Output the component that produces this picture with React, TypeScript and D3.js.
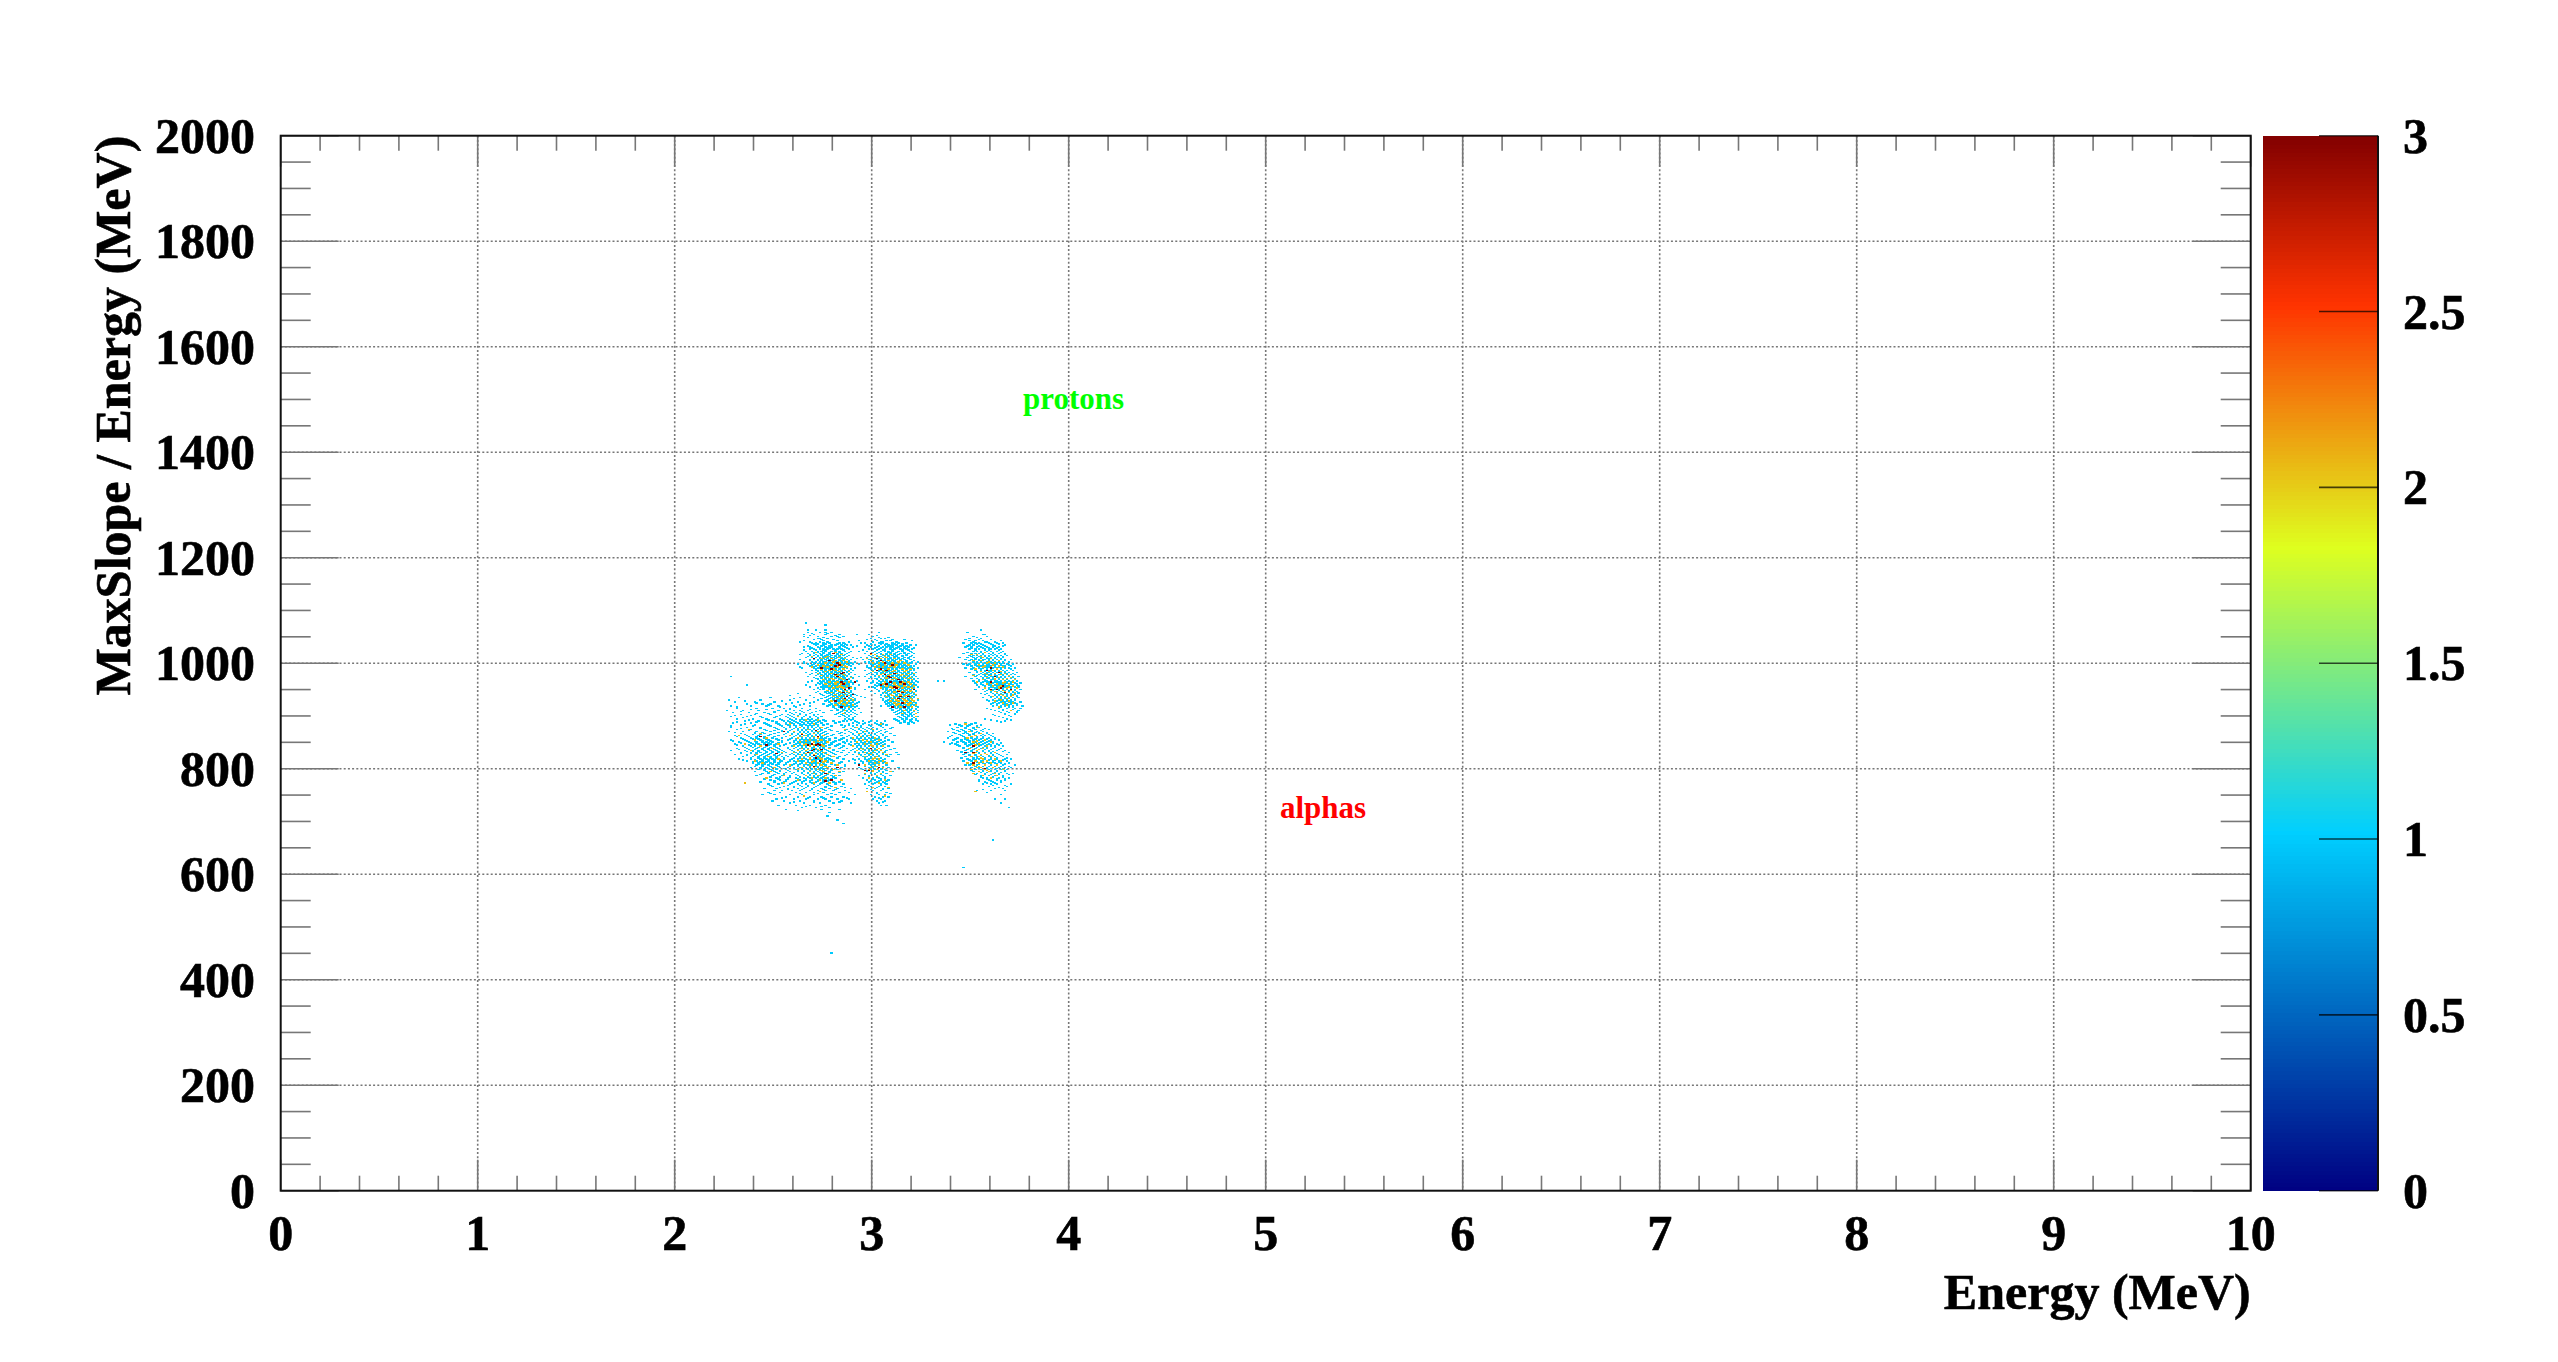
import React from "react";
import * as d3 from "d3";

const W = 2558, H = 1362;
const xTicks = [0,1,2,3,4,5,6,7,8,9,10];
const yTicks = [0,200,400,600,800,1000,1200,1400,1600,1800,2000];
const zTicks = [0,0.5,1,1.5,2,2.5,3];
const xLabel = "Energy (MeV)";
const yLabel = "MaxSlope / Energy (MeV)";
const paletteStops = [0,0.34,0.61,0.84,1];
const paletteColors = ["#000082","#00cfff","#deff1f","#ff3300","#820000"];

// Histogram cells: each row is [slope (MeV), then energy bins in units of 0.01 MeV]. Bin size 0.01 MeV x 2 MeV.
const countOneRows: number[][] = [
[1076,266],[1072,276],[1062,267,271,276,355],[1058,267,273,276,279,303,348],
[1054,265,270,276,283,292,298,356,357],[1050,265,272,279,282,285,300,351,358],
[1046,272,273,277,299,304,306,349,355],[1042,265,275,282,293,302,307,309,320,349,352,356,365],
[1038,269,271,275,278,283,285,294,296,303,305,310,313,317,346,350,352,354,359,363,366],
[1034,271,275,279,281,284,287,289,297,301,306,308,310,312,315,319,322,349,351,356,361,367],
[1030,265,268,272,276,279,283,286,290,296,299,302,305,307,310,313,316,318,347,350,353,355,358,361,364],
[1026,268,270,273,275,277,280,282,284,288,298,300,303,306,309,311,314,317,320,349,352,354,357,360,362,365],
[1022,266,269,272,274,276,279,281,283,286,289,293,297,301,304,306,308,310,313,315,319,351,353,355,358,360,363,366],
[1018,264,267,270,273,275,278,280,282,284,287,296,299,302,304,307,309,311,314,316,318,321,346,350,352,354,356,359,361,364,367],
[1014,268,270,272,274,276,277,279,281,283,285,288,298,300,302,305,306,308,310,312,315,317,320,349,351,353,355,357,359,361,363,365,368],
[1010,266,269,271,273,275,277,279,280,282,284,286,290,294,297,300,301,303,305,307,309,311,313,316,318,321,344,348,351,353,355,356,358,360,362,364,366],
[1006,263,268,270,272,274,276,278,280,283,285,287,289,295,298,299,302,304,306,308,310,312,314,316,319,347,350,352,354,356,357,359,361,363,365,367,370],
[1002,265,269,271,273,275,276,278,281,282,284,286,288,291,296,298,300,302,303,305,307,309,311,313,315,317,320,323,351,353,355,358,360,362,364,366,369],
[998,262,267,270,272,274,275,277,279,281,283,285,287,290,293,299,301,303,304,306,308,310,312,314,316,318,322,346,349,352,354,356,358,359,361,363,365,368,371],
[994,268,271,273,274,276,278,280,282,284,286,289,297,300,302,304,305,307,309,311,313,315,317,319,321,350,353,355,357,358,360,362,364,366,367,370],
[990,264,270,272,273,275,277,279,281,283,285,287,291,298,299,301,303,305,307,308,310,312,314,316,318,320,323,347,351,354,356,358,361,363,365,367,369,372],
[986,269,271,272,274,276,278,280,282,284,286,288,290,296,300,302,303,304,306,308,309,311,313,315,317,319,321,352,355,357,359,360,362,364,366,368,371],
[982,266,271,273,275,277,279,281,282,283,285,287,289,299,301,302,304,305,307,309,310,312,314,316,318,320,322,349,353,356,358,359,361,363,365,367,369,373],
[978,268,272,274,276,278,280,281,283,284,286,288,291,297,300,302,304,306,308,309,311,313,315,317,319,321,351,354,356,357,359,360,362,364,366,368,370,372],
[974,228,267,273,275,277,279,280,282,284,285,287,289,293,296,299,301,303,305,307,309,310,312,314,316,318,320,322,347,352,355,357,358,360,361,363,365,367,369,371,374],
[970,271,272,274,276,278,279,281,283,285,286,288,290,298,301,302,304,306,308,310,311,313,315,317,319,321,323,350,353,356,358,359,361,362,364,366,368,370,372],
[966,269,273,275,277,278,280,282,284,286,287,289,292,297,300,303,305,307,309,311,312,314,316,318,320,322,333,336,351,354,357,358,360,362,363,365,367,369,371,373],
[962,272,274,276,277,279,281,283,285,287,288,290,299,302,304,306,308,310,312,313,315,317,319,321,352,355,358,359,361,363,364,366,368,370,372,375],
[958,236,266,271,275,276,278,280,282,284,286,288,293,301,303,305,307,309,311,313,314,316,318,320,322,353,356,359,360,362,364,366,367,369,371,373],
[954,268,274,276,277,279,281,283,285,287,289,298,300,304,306,308,310,312,314,315,317,319,321,323,354,357,360,361,363,365,367,368,370,372,374],
[950,270,273,275,278,280,282,284,286,288,291,296,302,305,307,309,311,313,315,317,319,321,352,356,359,361,362,364,366,368,370,372,375],
[946,272,276,277,279,281,283,285,287,289,299,303,306,308,310,312,314,316,318,320,322,357,360,362,363,365,367,369,371,373],
[942,262,273,277,278,280,282,284,286,288,290,301,305,307,309,311,313,315,317,319,321,355,358,361,363,365,367,368,370,372,374],
[938,258,268,275,278,280,281,283,285,287,289,292,304,306,308,310,312,314,316,318,320,322,359,362,364,366,368,370,373],
[934,232,248,263,270,276,279,281,282,284,286,288,290,296,304,307,309,311,313,315,317,319,321,356,360,363,365,367,369,371,374],
[930,227,243,258,266,272,277,280,282,283,285,287,289,291,305,308,310,312,314,316,318,320,323,358,361,364,366,368,370,372],
[926,230,240,250,262,270,278,281,283,285,286,288,290,293,306,309,311,313,315,317,319,321,362,365,367,369,371,375],
[922,236,244,248,256,265,275,279,282,284,286,287,289,291,307,310,312,314,316,318,320,322,360,363,366,368,370,373],
[918,228,238,246,252,260,268,277,280,283,285,287,288,290,292,304,308,311,313,315,317,319,322,361,365,367,369,371,376],
[914,231,241,249,255,258,264,271,281,284,286,288,290,293,309,312,314,316,318,320,322,358,364,368,372,375],
[910,226,234,242,252,256,260,263,267,273,279,282,285,287,289,291,310,313,315,317,319,321,323,362,366,370,374],
[906,229,237,245,250,258,261,265,269,275,283,286,288,290,294,311,314,316,318,320,323,365,369,373],
[902,233,240,248,254,257,260,263,266,270,272,281,284,287,289,292,312,315,317,319,321,361,367,372],
[898,228,236,243,251,256,259,262,265,268,271,274,283,286,288,291,313,316,318,320,323,364,370],
[894,231,239,246,253,258,261,264,267,269,272,286,288,290,311,315,317,320,322,357,368],
[890,235,242,249,255,257,260,263,266,268,270,273,276,280,285,287,291,295,299,302,306,313,316,319,323,363,367],
[886,229,238,245,251,256,259,262,265,267,269,271,274,281,290,293,296,301,304,314,318,321,347,352],
[882,233,240,247,253,257,260,263,264,266,268,270,272,275,284,288,292,298,303,307,339,344,349,355],
[878,228,236,243,250,255,258,261,263,265,267,269,271,273,277,285,291,294,297,300,305,310,343,347,351,354],
[874,231,238,245,252,256,259,262,264,266,268,270,272,274,278,287,290,293,296,299,302,306,341,345,349,352,356,359],
[870,227,234,241,248,254,257,260,263,265,267,269,271,273,276,282,288,292,295,297,300,303,307,338,344,347,350,353,356],
[866,233,240,245,250,256,259,262,264,266,268,270,272,274,277,283,286,290,294,296,298,301,304,309,342,346,348,351,354,358,361],
[862,230,236,242,247,252,258,261,263,265,267,269,271,273,275,279,284,288,291,293,295,297,299,302,305,311,340,345,349,352,355,357,360],
[858,233,238,241,245,249,254,259,262,264,266,268,270,272,274,276,281,285,289,292,294,296,298,300,303,306,338,343,347,350,353,356,359,362],
[854,228,235,240,243,247,252,257,261,263,265,267,269,271,273,275,278,283,287,291,293,295,297,299,301,304,308,341,345,348,351,354,357,360,364],
[850,232,237,241,244,246,249,254,260,262,264,266,268,270,272,274,277,280,285,289,292,294,296,298,300,302,305,310,336,343,346,349,352,355,358,361],
[846,230,235,239,242,245,248,251,256,261,263,265,267,269,271,273,275,279,283,288,291,293,295,297,299,301,303,306,339,342,347,350,353,356,359,363],
[842,234,238,240,243,246,250,253,259,262,264,266,268,270,272,274,276,281,285,290,292,294,296,298,300,302,304,308,344,348,351,354,357,360,362,366],
[838,231,236,241,244,247,249,252,257,260,263,265,267,269,271,273,275,278,283,287,291,293,295,297,299,301,303,305,311,346,349,352,355,358,361,365],
[834,228,235,239,242,245,248,251,254,259,262,264,266,268,270,272,274,277,280,285,289,292,294,296,298,300,302,304,307,343,347,350,353,356,359,363,367],
[830,233,238,241,243,246,249,252,256,261,263,265,267,269,271,273,276,279,284,288,291,293,295,297,299,301,303,306,312,345,348,351,354,357,360,362,369],
[826,230,236,240,244,247,250,253,258,260,262,264,266,268,270,272,274,277,281,287,290,294,296,298,300,302,305,309,313,346,349,352,355,358,361,364,368],
[822,234,239,242,245,248,251,254,257,261,263,265,267,269,271,273,275,279,283,292,295,297,299,301,303,308,347,350,353,356,359,362,366],
[818,232,238,243,246,249,252,255,259,262,264,266,268,270,272,274,276,278,285,290,293,296,298,300,302,306,348,351,354,357,360,363,367,370],
[814,236,241,244,247,250,254,258,260,263,265,267,269,271,274,277,280,288,294,297,299,301,304,310,346,350,352,355,358,361,364,368],
[810,239,242,245,248,252,256,261,264,266,268,270,272,275,279,283,291,295,298,300,302,305,351,354,356,359,362,365,369],
[806,241,244,247,251,255,259,262,265,267,269,271,273,276,281,286,296,299,301,303,307,347,349,353,357,360,363,366,372],
[802,238,243,246,249,253,257,260,263,266,268,270,272,274,277,284,293,298,300,303,308,313,350,354,358,361,364,367,370],
[798,242,245,248,251,256,261,264,267,269,271,273,275,279,282,295,299,301,304,306,352,355,359,362,365,368],
[794,240,246,250,253,258,262,265,268,270,272,275,278,285,297,300,303,305,310,351,356,360,363,367],
[790,244,247,252,255,259,264,267,269,271,274,276,280,296,299,301,304,307,353,357,361,364,368,371],
[786,241,249,254,258,262,266,268,270,273,276,279,283,293,298,302,305,309,355,359,362,366],
[782,246,251,257,261,265,268,271,274,277,281,295,300,303,306,356,358,360,364,369],
[778,248,253,256,263,266,269,272,275,278,284,297,301,304,308,354,359,363,367],
[774,243,250,255,260,264,268,271,275,280,283,298,302,305,357,361,365],
[770,247,252,258,262,266,270,273,277,281,285,296,300,304,307,356,360,363,370],
[766,249,255,260,264,267,271,276,279,284,299,303,306,359,368],
[762,245,251,257,262,265,269,274,278,282,289,297,301,305,308,362,366],
[758,250,254,259,263,268,272,276,280,286,300,304,353,360,367],
[754,247,253,261,266,270,275,283,288,302,307,358],
[750,244,250,258,264,270,277,281,291,299,303,306,365],
[746,256,262,268,274,279,285,301,305,308],
[742,251,260,266,272,276,282,288,300,304,362,367],
[738,249,255,263,270,278,284,302,306],
[734,258,265,273,280,289,303,365],
[730,252,261,268,276,304,307],
[726,264,271,278,369],
[722,256,274,283],
[716,278],[702,282],[664,361],[612,346],[450,279],
];

const countOneRowsInterleaved: number[][] = [
[1056,269,277],[1052,268,281,302],[1048,267,275,283,303,308,353],
[1044,270,274,280,297,301,310,316,347,354,360],
[1040,263,268,273,277,288,300,304,305,312,351,357,358,362],
[1036,270,272,276,282,286,299,304,307,311,315,353,355,360,364],
[1032,267,274,278,279,285,292,298,303,308,309,314,317,348,354,357,362,366],
[1028,269,273,277,278,283,287,301,304,309,312,316,321,350,356,359,363],
[1024,265,271,275,276,281,285,295,302,305,306,310,315,318,352,357,359,364],
[1020,270,272,275,278,281,283,288,300,303,308,309,312,316,320,348,355,357,361,365],
[1016,263,268,271,274,277,278,282,286,301,304,307,311,313,317,353,356,360,362,367],
[1012,267,272,275,276,278,281,283,287,299,302,304,308,311,312,315,319,350,354,357,359,363,366],
[1008,270,273,275,277,279,281,284,285,292,301,303,306,308,309,313,315,318,352,355,358,359,362,365],
[1004,268,272,274,277,279,280,283,284,288,300,303,305,306,310,311,314,317,321,349,354,356,359,361,364,367],
[1000,265,270,273,275,278,279,281,284,286,289,298,302,304,305,308,310,312,315,319,353,357,358,361,363,366],
[996,269,272,275,277,279,280,282,285,288,300,303,305,306,309,311,313,316,318,348,352,356,359,361,362,365,369],
[992,263,270,273,276,278,280,281,284,286,297,302,304,306,309,310,313,315,319,354,357,359,362,364,367],
[988,271,274,276,278,279,281,283,285,289,299,301,304,306,307,310,312,315,317,321,350,355,358,360,363,365,370],
[984,272,275,277,279,281,283,284,287,300,303,305,307,308,311,313,316,318,353,357,360,362,364,367],
[980,269,273,276,278,280,282,284,285,288,298,302,304,306,309,311,312,315,317,320,355,358,360,362,365,368,371],
[976,271,275,277,279,282,283,285,287,301,305,307,310,312,313,316,318,321,353,357,359,362,363,366,369],
[972,270,274,276,279,281,282,285,286,290,299,303,306,308,311,313,315,317,320,356,359,361,363,365,367,371],
[968,272,276,278,280,283,284,286,288,302,305,307,310,312,314,315,318,321,354,357,360,361,364,366,368,372],
[964,267,274,277,279,281,283,285,287,289,300,304,307,309,310,313,316,317,320,323,356,359,362,364,365,368,370],
[960,273,276,278,280,282,284,286,287,290,303,306,308,311,313,315,317,319,321,355,358,360,363,365,367,370,373],
[956,275,277,279,281,283,285,286,288,302,305,308,310,312,315,316,318,320,357,361,363,365,366,368,371,374],
[952,272,275,278,281,282,284,286,288,291,301,305,307,310,312,314,316,318,321,359,362,363,366,368,370,373],
[948,277,279,281,282,285,287,289,303,307,309,311,314,316,317,319,322,358,361,364,366,367,369,372],
[944,271,276,278,280,283,285,287,289,305,307,310,312,315,317,318,320,360,363,366,367,369,371,374],
[940,274,279,281,283,285,287,289,291,304,308,309,312,315,316,318,321,357,362,364,366,368,370,372],
[936,277,280,282,284,285,287,289,294,306,308,311,313,315,318,319,321,360,363,365,368,370,373],
[932,260,274,278,280,283,284,286,288,291,305,309,311,314,316,318,320,362,365,367,369,372],
[928,235,254,276,279,282,284,286,288,290,307,310,312,315,317,319,321,359,363,366,368,370],
[924,241,259,268,281,283,285,288,289,292,308,311,313,316,318,320,322,361,364,367,370,372],
[920,247,263,278,282,284,287,289,309,312,314,317,319,321,363,367,369,373],
[916,231,253,261,280,283,286,289,291,311,313,315,318,320,323,365,369,371],
[912,238,246,258,268,282,285,288,290,310,314,317,319,322,360,366,371],
[908,233,250,256,264,271,284,287,289,312,315,318,321,364,368,373],
[904,241,247,259,263,268,282,286,291,313,316,319,322,367,372],
[900,230,238,253,258,262,266,270,285,288,315,318,320,362,369],
[896,234,244,250,257,260,264,268,272,287,290,314,317,321,366],
[892,237,247,254,259,263,265,268,271,275,289,312,319,322,360,370],
[888,231,241,251,258,261,264,267,269,272,283,292,298,316,320,365],
[884,235,246,252,256,260,263,265,268,271,277,288,295,302,305,318,342,350],
[880,228,239,248,254,258,261,264,267,269,272,279,286,290,294,299,304,345,348,353],
[876,233,243,251,256,260,262,265,267,270,273,276,289,293,295,298,302,309,340,347,351,357],
[872,237,246,250,254,258,262,264,266,269,271,274,279,286,291,294,297,300,304,343,346,350,355],
[868,230,240,244,252,257,260,263,265,267,270,272,275,284,289,292,295,298,302,306,341,347,352,354,358],
[864,235,239,243,248,255,259,262,264,267,268,271,273,276,280,290,293,296,299,301,305,344,349,351,356,359],
[860,231,237,241,245,250,256,260,263,264,267,269,272,274,277,287,292,295,297,300,303,307,339,346,350,353,356,361],
[856,234,239,242,246,251,258,261,264,266,268,270,273,275,278,284,290,293,296,299,302,342,347,352,355,358,362],
[852,229,236,240,244,248,254,260,263,265,267,270,271,274,276,281,287,291,294,297,300,303,306,345,349,353,356,359],
[848,233,238,241,245,247,252,258,262,265,267,268,271,273,276,279,286,292,295,298,301,304,340,347,351,354,357,361,365],
[844,231,237,240,243,247,250,255,260,263,265,268,270,272,275,278,282,289,293,296,299,302,305,343,349,352,355,358,360,364],
[840,235,239,242,245,248,251,257,261,264,266,269,270,273,275,278,284,292,294,297,300,302,306,346,350,353,356,358,362],
[836,232,237,240,244,247,250,253,258,262,265,267,269,271,274,276,280,290,293,296,298,301,304,309,348,351,354,357,360,364],
[832,236,239,242,246,249,252,255,260,263,266,267,270,272,274,278,282,291,295,298,300,303,306,345,350,353,356,359,361,366],
[828,233,238,241,245,248,251,254,259,262,265,268,269,272,274,276,280,293,297,299,302,305,347,351,354,357,360,363],
[824,236,240,243,246,250,252,256,261,264,266,268,271,273,275,278,286,294,298,300,303,307,349,352,355,359,361,365],
[820,238,242,245,248,251,255,260,263,265,268,270,272,274,277,282,296,299,301,304,345,351,353,357,360,363,368],
[816,234,240,244,247,250,253,258,262,264,267,269,271,273,276,279,291,297,300,303,305,349,352,356,359,362,366],
[812,239,243,246,250,253,257,261,264,267,270,271,274,277,284,295,299,302,306,353,355,358,361,364],
[808,242,245,249,252,256,260,263,266,269,271,273,275,279,293,298,300,303,350,354,357,360,363,367],
[804,240,244,248,252,258,262,265,268,270,272,275,278,286,296,300,302,305,352,356,359,362,365,369],
[800,243,247,251,255,260,264,267,269,271,274,276,281,294,299,301,304,354,358,360,363,366],
[796,245,249,253,257,262,265,268,271,273,276,279,297,300,303,307,350,356,360,363,367],
[792,247,251,256,260,264,267,270,273,275,278,283,299,302,305,355,358,362,365],
[788,243,250,255,261,265,268,271,274,277,296,301,304,352,357,360,364,369],
[784,248,253,258,263,267,270,272,275,280,298,302,306,355,361,366],
[780,245,252,257,262,266,269,273,276,279,300,304,358,363,367],
[776,250,256,261,265,268,272,277,299,303,307,354,360,365],
[772,254,259,264,269,274,281,301,306,358,362],
[768,248,257,263,267,272,278,298,304,361,367],
[764,253,260,266,270,276,286,302,364],
[760,257,264,269,275,281,299,305,356],
[752,248,263,272,279,302,309],[744,254,267,275,287,303],[736,260,270,283,305],
[728,266,274],[720,262],[710,277],[696,285],
];

const countTwoRows: number[][] = [
[1020,271,281,357],[1016,284,299,301,305,309,350,353],[1012,269,277,303,306,355],
[1008,274,279,286,297,304,311,360],[1004,281,285,299,308,314,351,355,364],
[1000,276,283,300,303,310,316,358,362],[996,272,279,284,306,312,318,354,361],
[992,269,277,282,287,301,305,311,356,360,366],[988,274,280,285,303,308,315,319,352,363],
[984,276,283,288,300,306,310,316,355,359,365],[980,272,279,284,305,312,318,321,357,362,367],
[976,274,281,286,303,308,314,317,351,360,369],[972,277,283,289,307,311,316,319,358,364,370],
[968,275,280,285,304,310,313,320,356,362,366,372],[964,278,282,288,306,309,315,318,353,360,367,371],
[960,276,281,284,305,311,314,319,358,363,369],[956,278,283,287,307,312,316,321,361,365,371],
[952,280,285,289,304,310,315,320,357,364,368,373],[948,277,282,286,308,313,317,319,360,366,370],
[944,279,284,288,306,311,316,321,363,369,372],[940,281,286,290,309,314,318,322,365,371],
[936,280,283,287,307,312,316,320,361,367,370],[932,282,285,289,310,315,319,323,364,368],
[928,279,284,288,309,313,317,321,362,369],[924,283,287,311,316,319,366,371],
[920,281,286,290,312,318,322,368],[916,284,288,314,320,364],[910,286,316,321,370],
[904,285,315,322],[898,262,322],[892,266,272],
[884,258,270,304,347],[878,263,274,292,353],[874,237,267,286,300],[870,260,272,296,349],
[866,243,264,270,293,355],[862,232,258,266,275,298,352],[858,246,262,272,290,301,348],
[854,240,268,274,295,303,357],[850,263,270,277,292,299,351,360],[846,235,252,266,272,296,302,354],
[842,243,260,268,275,290,300,305,358],[838,249,264,270,278,294,298,303,349,356],
[834,238,262,266,273,292,301,304,353],[830,254,260,268,275,296,300,305,352,362],
[826,241,263,270,277,293,299,307,355,358],[822,247,265,272,280,296,302,350,354,360],
[818,252,264,268,274,300,303,356,362],[814,240,262,270,276,298,305,352,358,365],
[810,244,266,272,279,301,307,348,354,360],[806,258,268,274,282,296,303,351,357,363],
[802,250,264,270,277,299,305,353,355,361],[798,262,272,280,298,302,350,357,366],
[794,248,268,275,283,300,309,354,359],[790,270,277,296,304,351,362],
[786,255,266,272,281,302,356,363],[782,246,269,276,298,360],[778,262,273,284,306],
[772,255,270,278,303],[764,281,300,308],[756,273,297,352],[748,265,306],[772,235],
// second pass through the dense cores
[1010,276,283,301,307,356],[1002,280,287,305,313,359],[994,275,286,303,309,357,364],
[986,278,281,305,311,317,361],[978,282,285,304,309,315,358,365],[970,279,284,307,312,318,362,368],
[962,281,286,306,311,316,360,366],[954,282,284,309,313,318,364,369],[946,283,287,311,315,319,362,367],
[938,284,288,310,314,317,366,371],[930,286,290,312,316,320,365],[922,285,313,318],
[860,264,270,294,350],[852,266,272,297,353],[844,265,270,274,299,352],[836,267,272,295,302,354],
[828,266,271,298,351,357],[820,268,273,301,355],[812,269,275,303,356],[804,271,276,301,354],[796,274,300,358],
];

const countThreeRows: number[][] = [
[1018,280,299],[1008,270,302],[1000,282,306],[994,281],[990,274,360],[986,302,307,358],
[982,285,364],[978,281,306],[972,309],[964,284,291,309,314,360],[958,304],[956,366],
[954,311],[950,286,321,360,363,370],[946,313],[940,290],[936,318],[932,286,313],
[928,281],[924,315],[916,284,310,316],[872,271],[870,255],[864,264],[860,243,272],
[844,246,267,271,273],[838,299],[834,269],[830,267,347,351],[828,251],[842,351],
[820,271],[814,273],[810,351],[806,293],[804,270],[802,282,303],[800,357],[796,298,296],
[790,276],[778,279],[776,276],
[1004,278,304],[996,283,310],[988,279,304],[980,284,311],[974,282,308,362],[968,287,313],
[960,285,307,316],[952,288,312,365],[944,285,315,367],[936,287,314],[846,269,272],[836,270,274],[824,270],
];

const xMinor = d3.range(0, 10.01, 0.2);
const yMinor = d3.range(0, 2000.1, 50);

const plotLeft = 280.7, plotRight = 2250.7, plotTop = 135.7, plotBottom = 1190.7;
const barLeft = 2263, barRight = 2378, barTickLeft = 2319;

export default function App() {
  const x = d3.scaleLinear().domain([0, 10]).range([plotLeft, plotRight]);
  const y = d3.scaleLinear().domain([0, 2000]).range([plotBottom, plotTop]);
  const z = d3.scaleLinear().domain([0, 3]).range([plotBottom, plotTop]);
  const color = d3.scaleLinear<string>().domain(paletteStops).range(paletteColors);
  const bands = d3.range(0, 255);
  const font = { fontFamily: "'Liberation Serif', serif", fontWeight: 700 as const };
  const tickColor = "#777";

  const cells = (rows: number[][], value: number, level: number) =>
    rows.flatMap((row, i) =>
      row.slice(1).map((bin, j) => {
        const e = bin * 0.01;
        const px = x(e), py = y(row[0] + 2);
        return (
          <rect key={`${value}-${i}-${j}`} x={px} y={py} width={x(e + 0.01) - px + 0.4} height={y(row[0]) - py + 0.4}
            fill={color(level)} shapeRendering="crispEdges" />
        );
      })
    );

  return (
    <svg width={W} height={H} style={{ position: "absolute", left: 0, top: 0, background: "#fff" }}>
      {xTicks.slice(1, -1).map(t => (
        <line key={t} x1={x(t)} x2={x(t)} y1={plotTop} y2={plotBottom} stroke="#777" strokeWidth={1.6} strokeDasharray="2 2.2" />
      ))}
      {yTicks.slice(1, -1).map(t => (
        <line key={t} x1={plotLeft} x2={plotRight} y1={y(t)} y2={y(t)} stroke="#777" strokeWidth={1.6} strokeDasharray="2 2.2" />
      ))}
      {xMinor.map((t, i) => {
        const len = i % 5 === 0 ? 31 : 15;
        return (
          <g key={i} stroke={tickColor} strokeWidth={1.6}>
            <line x1={x(t)} x2={x(t)} y1={plotBottom} y2={plotBottom - len} />
            <line x1={x(t)} x2={x(t)} y1={plotTop} y2={plotTop + len} />
          </g>
        );
      })}
      {yMinor.map((t, i) => {
        const len = i % 4 === 0 ? 58 : 30;
        return (
          <g key={i} stroke={tickColor} strokeWidth={1.6}>
            <line x1={plotLeft} x2={plotLeft + len} y1={y(t)} y2={y(t)} />
            <line x1={plotRight} x2={plotRight - len} y1={y(t)} y2={y(t)} />
          </g>
        );
      })}
      {cells(countOneRows, 1, 1 / 3)}
      {cells(countOneRowsInterleaved, 11, 1 / 3)}
      {cells(countTwoRows, 2, 2.05 / 3)}
      {cells(countThreeRows, 3, 1)}
      <rect x={plotLeft} y={plotTop} width={plotRight - plotLeft} height={plotBottom - plotTop} fill="none" stroke="#111" strokeWidth={2} />
      {bands.map(b => {
        const lo = (b / 255) * 3, hi = ((b + 1) / 255) * 3;
        return <rect key={b} x={barLeft} y={z(hi)} width={barRight - barLeft} height={z(lo) - z(hi) + 0.6} fill={color((b + 0.5) / 255)} shapeRendering="crispEdges" />;
      })}
      <line x1={barRight} x2={barRight} y1={plotTop} y2={plotBottom} stroke="#111" strokeWidth={2} />
      {zTicks.map(t => (
        <line key={t} x1={barTickLeft} x2={barRight} y1={z(t)} y2={z(t)} stroke="#000" strokeOpacity={0.7} strokeWidth={1.6} />
      ))}
      <g {...font} fontSize={50} fill="#000" stroke="#000" strokeWidth={0.6}>
        {xTicks.map(t => <text key={t} x={x(t)} y={1250} textAnchor="middle">{t}</text>)}
        {yTicks.map(t => <text key={t} x={255} y={y(t) + 17} textAnchor="end">{t}</text>)}
        {zTicks.map(t => <text key={t} x={2403} y={z(t) + 17}>{t}</text>)}
        <text x={plotRight} y={1309} textAnchor="end">{xLabel}</text>
        <text transform={`translate(130,${plotTop}) rotate(-90)`} textAnchor="end">{yLabel}</text>
      </g>
      <g {...font} fontSize={31}>
        <text x={1023} y={409} fill="#00ff00">protons</text>
        <text x={1280} y={818} fill="#ff0000">alphas</text>
      </g>
    </svg>
  );
}
